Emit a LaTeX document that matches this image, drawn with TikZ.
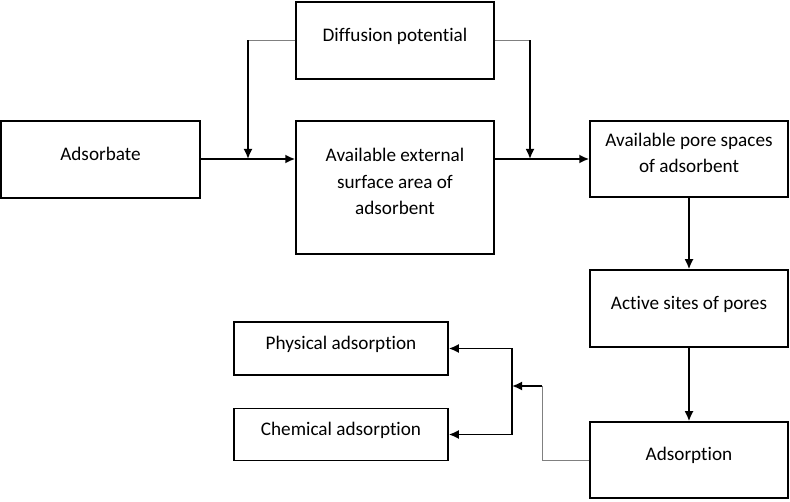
\documentclass[tikz,border=0pt]{standalone}
\usepackage{fontspec}
\setmainfont{Carlito}[Ligatures=NoCommon]
\usetikzlibrary{arrows.meta}
\tikzset{>={Latex[length=10pt,width=9pt]}}

\begin{document}
\begin{tikzpicture}[x=1pt, y=-1pt,
    blk/.style={draw, line width=1.5pt, inner sep=0pt, align=center,
        font=\fontsize{19.2}{26.5}\selectfont,
        execute at end node={\rule[-12pt]{0pt}{0pt}}},
    arr/.style={->, line width=1.8pt},
    thinln/.style={line width=0.9pt, gray}]
    \useasboundingbox (0,0) rectangle (790,502);
    \node[blk, minimum width=199pt, minimum height=77pt] (ads) at (100.5,159.5) {Adsorbate};
    \node[blk, minimum width=198pt, minimum height=77pt] (diff) at (395,40.5) {Diffusion potential};
    \node[blk, minimum width=198pt, minimum height=133pt] (ext) at (395,187.5) {Available external\\surface area of\\adsorbent};
    \node[blk, minimum width=198pt, minimum height=76pt] (pore) at (689,159) {Available pore spaces\\of adsorbent};
    \node[blk, minimum width=198pt, minimum height=77pt] (act) at (689,308.5) {Active sites of pores};
    \node[blk, minimum width=198pt, minimum height=76pt] (adso) at (689,460) {Adsorption};
    \node[blk, minimum width=214pt, minimum height=53pt] (phys) at (341,348.5) {Physical adsorption};
    \node[blk, minimum width=214pt, minimum height=52pt] (chem) at (341,434.5) {Chemical adsorption};
    \coordinate (j1) at (248,159);
    \coordinate (j2) at (530,159);
    \coordinate (bend) at (542,386);
    \coordinate (fork) at (512,386);
    \draw[arr] (ads.east |- j1) -- (ext.west |- j1);
    \draw[arr] (ext.east |- j2) -- (pore.west |- j2);
    \draw[thinln] (diff.west) -- (diff.west -| j1);
    \draw[arr] (diff.west -| j1) -- (j1);
    \draw[thinln] (diff.east) -- (diff.east -| j2);
    \draw[arr] (diff.east -| j2) -- (j2);
    \draw[arr] (pore) -- (act);
    \draw[arr] (act) -- (adso);
    \draw[thinln] (adso.west) -| (bend);
    \draw[arr] (bend) -- (fork);
    \draw[arr] (fork) |- (phys.east);
    \draw[arr] (fork) |- (chem.east);
\end{tikzpicture}
\end{document}
